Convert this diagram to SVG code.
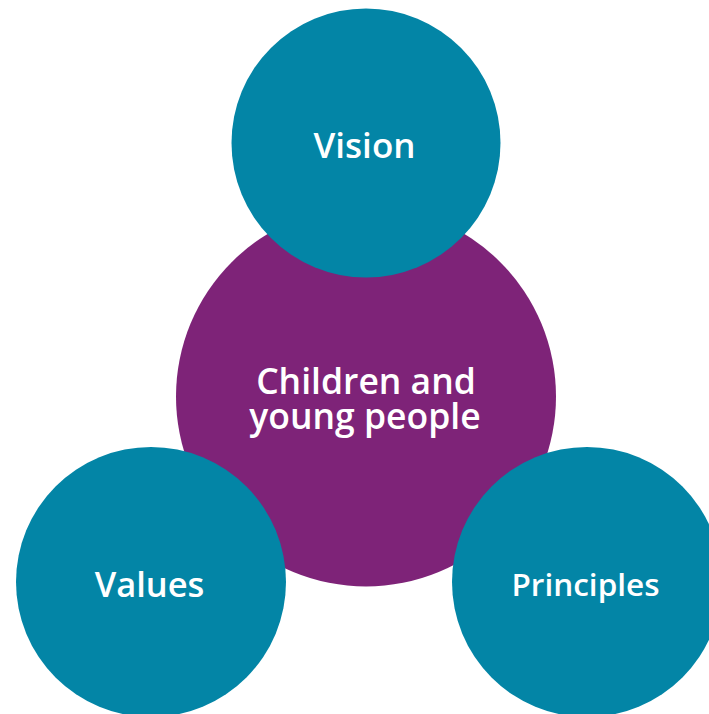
<svg xmlns="http://www.w3.org/2000/svg" width="709" height="714" viewBox="0 0 709 714">
<style>
.teal{fill:#0385a6}
.purple{fill:#7e2378}
text{font-family:"Open Sans","Liberation Sans",sans-serif;font-weight:600;fill:#ffffff;text-anchor:middle}
</style>
<rect width="709" height="714" fill="#ffffff"/>
<g id="center">
<circle class="purple" cx="366" cy="396.5" r="190"/>
<text font-size="35.5"><tspan x="366" y="394">Children and</tspan><tspan x="365" y="429">young people</tspan></text>
</g>
<g id="connectors"/>
<g id="vision">
<circle class="teal" cx="366" cy="143" r="134.5"/>
<text x="364.5" y="158" font-size="35">Vision</text>
</g>
<g id="values">
<circle class="teal" cx="151" cy="582" r="135"/>
<text x="149.5" y="597" font-size="34.5">Values</text>
</g>
<g id="principles">
<circle class="teal" cx="587" cy="582" r="135"/>
<text x="585.5" y="596" font-size="31.5">Principles</text>
</g>
</svg>
